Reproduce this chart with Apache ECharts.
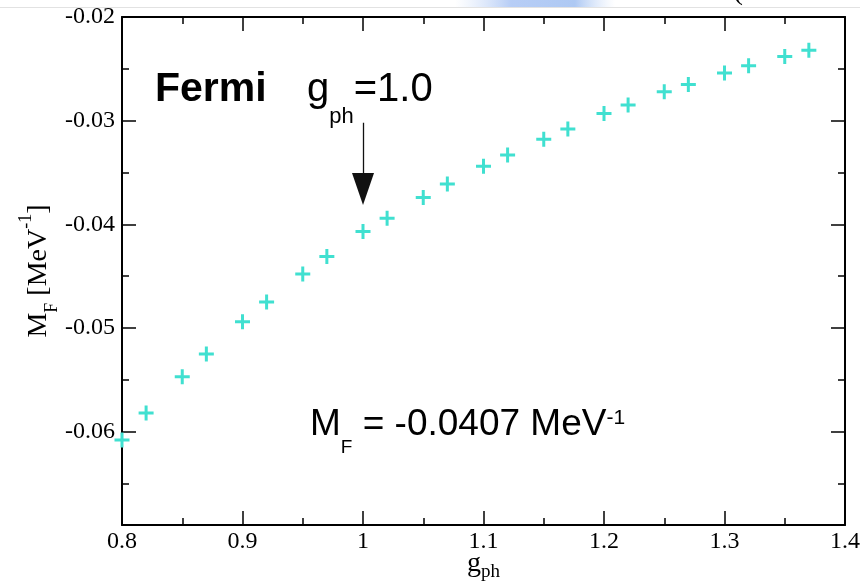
<!DOCTYPE html>
<html>
<head>
<meta charset="utf-8">
<script src="https://cdn.jsdelivr.net/npm/echarts@6/dist/echarts.min.js"></script>
<style>
  html, body { margin: 0; padding: 0; background: #fff; }
  #main { width: 860px; height: 587px; }
</style>
</head>
<body>
<div id="main"></div>
<script>
// g_ph values and the Fermi matrix element M_F [MeV^-1]
var gph = [0.80, 0.82, 0.85, 0.87, 0.90, 0.92, 0.95, 0.97, 1.00, 1.02, 1.05, 1.07,
           1.10, 1.12, 1.15, 1.17, 1.20, 1.22, 1.25, 1.27, 1.30, 1.32, 1.35, 1.37];
var mF = [-0.0608, -0.0582, -0.0547, -0.0525, -0.0494, -0.0475, -0.0448, -0.0431,
          -0.0407, -0.0394, -0.0374, -0.0361, -0.0344, -0.0333, -0.0318, -0.0308,
          -0.0293, -0.0285, -0.0272, -0.0265, -0.0254, -0.0247, -0.0238, -0.0232];

var yMajorTicks = [-0.06, -0.05, -0.04, -0.03, -0.02];
var yMinorTicks = [-0.065, -0.055, -0.045, -0.035, -0.025];
var xMin = 0.8, xMax = 1.4, yMin = -0.069, yMax = -0.02;

// arrow pointing at g_ph = 1.0
var arrowFrom = [1.0, -0.0302];
var arrowTo = [1.0, -0.0366];

var points = gph.map(function (g, i) { return [g, mF[i]]; });

var serif = '"Liberation Serif", "DejaVu Serif", serif';
var sans = '"Liberation Sans", Arial, sans-serif';
var plus = 'path://M4,0h2v4h4v2h-4v4h-2v-4h-4v-2h4z';

function xAxisDef(pos, labels) {
  return {
    type: 'value', position: pos, min: xMin, max: xMax, interval: 0.1,
    axisLine: { show: true, onZero: false, lineStyle: { color: '#000', width: 2 } },
    axisTick: { show: true, inside: true, length: 14, lineStyle: { color: '#000', width: 1.5 } },
    minorTick: { show: true, splitNumber: 2, length: 7, lineStyle: { color: '#000', width: 1.5 } },
    splitLine: { show: false },
    axisLabel: { show: labels, color: '#000', fontFamily: serif, fontSize: 24, margin: 5 }
  };
}

function yAxisDef(pos, ticks, len, line, labels) {
  return {
    type: 'value', position: pos, min: yMin, max: yMax,
    axisLine: { show: line, onZero: false, lineStyle: { color: '#000', width: 2 } },
    axisTick: { show: true, inside: true, length: len, customValues: ticks,
                lineStyle: { color: '#000', width: 1.5 } },
    splitLine: { show: false },
    axisLabel: { show: labels, customValues: ticks, color: '#000', fontFamily: serif,
                 fontSize: 24, margin: 7 }
  };
}

var xMain = xAxisDef('bottom', true);
xMain.name = 'g{s|ph}';
xMain.nameLocation = 'middle';
xMain.nameGap = 21;
xMain.nameMoveOverlap = false;
xMain.nameTextStyle = {
  color: '#000', fontFamily: serif, fontSize: 28, lineHeight: 36,
  rich: {
    s: { fontFamily: serif, fontSize: 19, verticalAlign: 'bottom', color: '#000' }
  }
};

var yMain = yAxisDef('left', yMajorTicks, 14, true, true);
yMain.name = 'M{s|F} [MeV{p|-1}]';
yMain.nameLocation = 'middle';
yMain.nameGap = 61;
yMain.nameMoveOverlap = false;
yMain.nameTextStyle = {
  color: '#000', fontFamily: serif, fontSize: 28, lineHeight: 44,
  rich: {
    s: { fontFamily: serif, fontSize: 18, verticalAlign: 'bottom', color: '#000' },
    p: { fontFamily: serif, fontSize: 18, verticalAlign: 'top', color: '#000' }
  }
};

var chart = echarts.init(document.getElementById('main'));
chart.setOption({
  backgroundColor: '#fff',
  animation: false,
  grid: { left: 122, right: 15, top: 17, bottom: 62, containLabel: false, outerBoundsMode: 'none' },
  xAxis: [xMain, xAxisDef('top', false)],
  yAxis: [
    yMain,
    yAxisDef('left', yMinorTicks, 7, false, false),
    yAxisDef('right', yMajorTicks, 14, true, false),
    yAxisDef('right', yMinorTicks, 7, false, false)
  ],
  series: [{
    type: 'scatter',
    data: points,
    symbol: plus,
    symbolSize: 15,
    clip: false,
    itemStyle: { color: '#40E0D0', opacity: 1 },
    silent: true,
    markLine: {
      silent: true,
      symbol: ['none', 'triangle'],
      symbolSize: [22, 32],
      label: { show: false },
      lineStyle: { color: '#111', width: 1.3, type: 'solid' },
      emphasis: { disabled: true },
      data: [[{ coord: arrowFrom }, { coord: arrowTo }]]
    }
  }],
  graphic: [
    { type: 'rect', shape: { x: 0, y: 7, width: 860, height: 1 }, style: { fill: '#e2e2e2' }, silent: true },
    { type: 'rect', shape: { x: 455, y: 0, width: 160, height: 7 }, silent: true,
      style: { fill: new echarts.graphic.LinearGradient(0, 0, 1, 0, [
        { offset: 0, color: 'rgba(200,218,248,0)' },
        { offset: 0.35, color: 'rgba(175,200,245,0.9)' },
        { offset: 0.75, color: 'rgba(165,195,242,0.9)' },
        { offset: 1, color: 'rgba(200,218,248,0)' }]) } },
    { type: 'text', x: 733, y: -9, silent: true,
      style: { text: '(', font: '30px ' + serif, fill: '#000', verticalAlign: 'middle' } },
    { type: 'text', x: 155, y: 90, silent: true,
      style: { text: 'Fermi', font: 'bold 41px ' + sans, fill: '#000', verticalAlign: 'middle' } },
    { type: 'text', x: 307, y: 90, silent: true,
      style: {
        text: 'g{s|ph}=1.0', font: '40px ' + sans, fill: '#000', verticalAlign: 'middle',
        lineHeight: 76,
        rich: { s: { font: '22px ' + sans, fill: '#000', verticalAlign: 'bottom' } }
      } },
    { type: 'text', x: 310, y: 425, silent: true,
      style: {
        text: 'M{s|F} = -0.0407 MeV{p|-1}', font: '37px ' + sans, fill: '#000',
        verticalAlign: 'middle', lineHeight: 64,
        rich: {
          s: { font: '19px ' + sans, fill: '#000', verticalAlign: 'bottom' },
          p: { font: '21px ' + sans, fill: '#000', verticalAlign: 'middle', padding: [0, 0, 14, 0] }
        }
      } }
  ]
});
</script>
</body>
</html>
